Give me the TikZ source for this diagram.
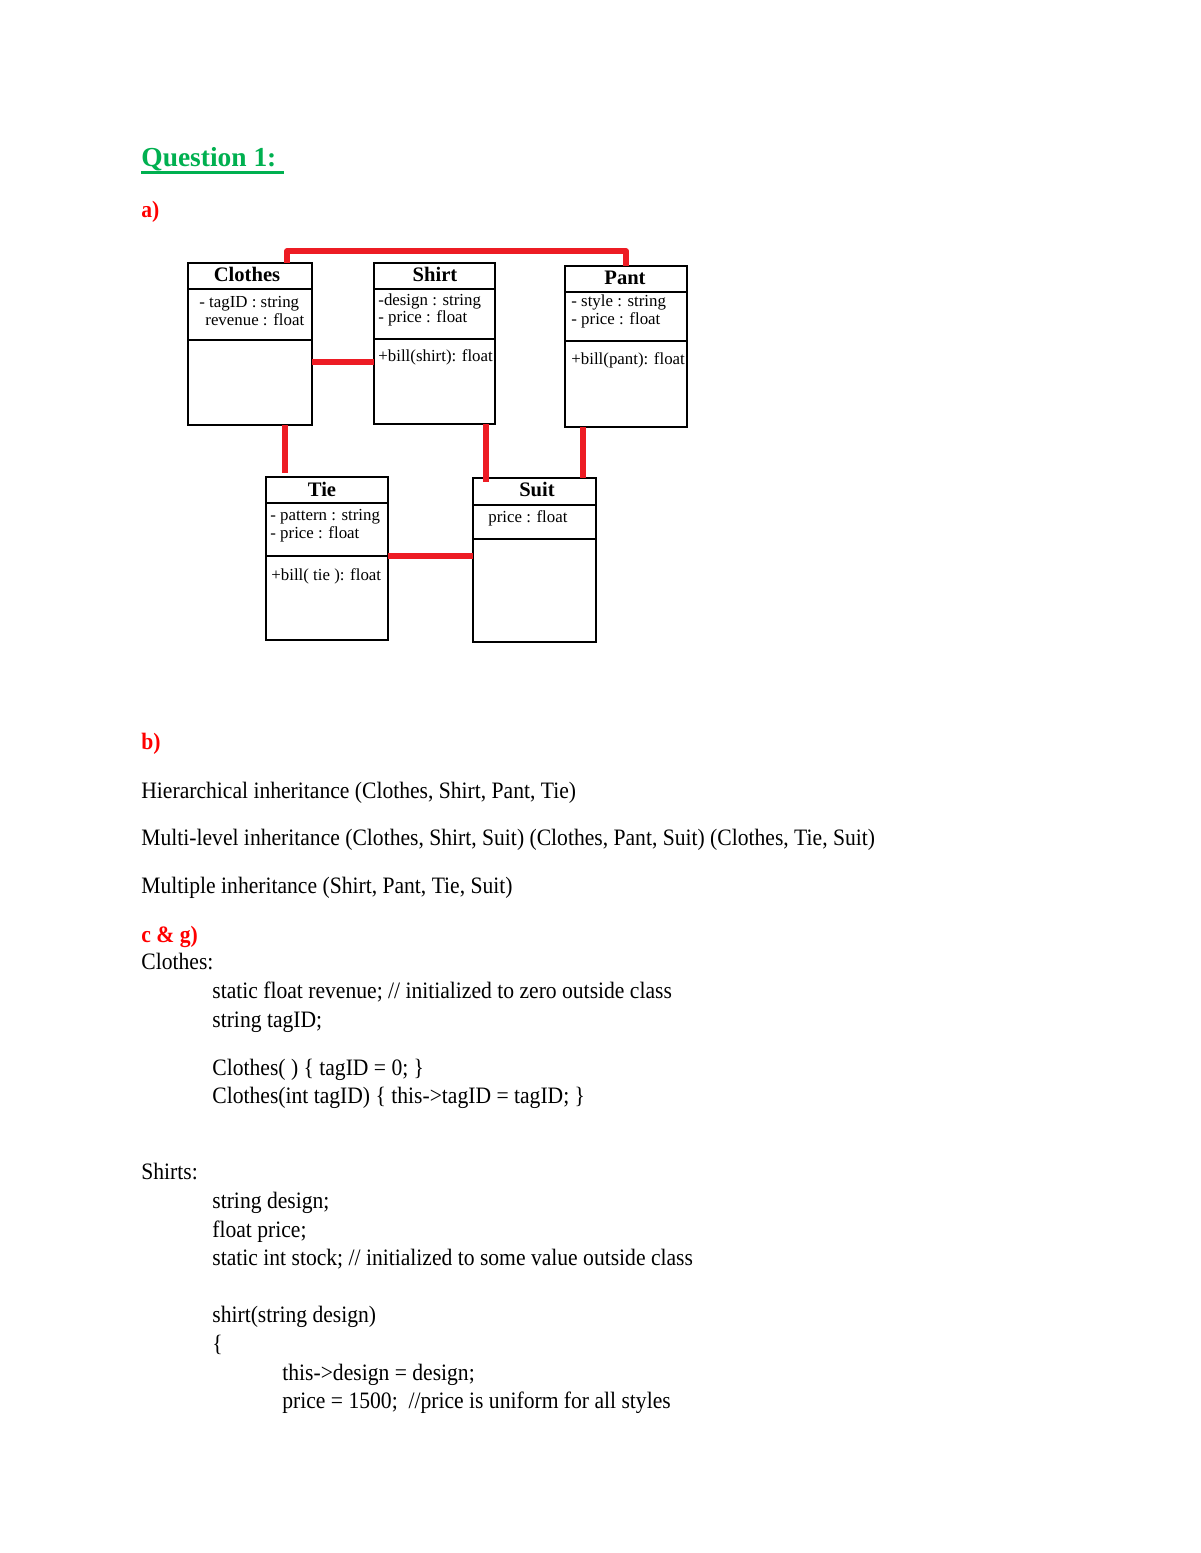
\documentclass[tikz,border=0pt]{standalone}
\usepackage{fontspec}
\setmainfont{Liberation Serif}
\newfontfamily\bodyfont{Liberation Serif}[FakeStretch=0.918]
\usetikzlibrary{fit}
\definecolor{qgreen}{HTML}{00B050}
\definecolor{lblred}{HTML}{FF0000}
\definecolor{connred}{HTML}{ED1C24}
\tikzset{
 classbox/.style={draw=black, line width=1.5pt, inner sep=0pt, outer sep=0pt, fill=white},
 divider/.style={draw=black, line width=1.5pt},
 conn/.style={draw=connred, line width=2.6pt, line join=round},
 ctitle/.style={font=\fontsize{10.5}{12}\selectfont\bfseries, anchor=base, inner sep=0pt},
 cattr/.style={font=\fontsize{8.6}{10}\selectfont, anchor=base west, inner sep=0pt},
 body/.style={font=\bodyfont\fontsize{12}{14}\selectfont, anchor=base west, inner sep=0pt},
 lbl/.style={font=\bodyfont\fontsize{12}{14}\selectfont\bfseries, text=lblred, anchor=base west, inner sep=0pt},
 heading/.style={font=\fontsize{14}{16}\selectfont\bfseries, text=qgreen, anchor=base west, inner sep=0pt},
}
\begin{document}
\begin{tikzpicture}[x=0.51pt, y=-0.51pt]
\useasboundingbox[fill=white] (0,0) rectangle (1200,1553);

% heading
\node[heading] (q) at (141,167) {Question 1:};
\draw[qgreen, line width=1.3pt] (141,172.5) -- (284,172.5);
\node[lbl] (la) at (141,218) {a)};

% class boxes
\node[classbox, fit={(188,263) (312,425)}] (clothes) {};
\node[classbox, fit={(374,263) (495,424)}] (shirt) {};
\node[classbox, fit={(565,266) (687,427)}] (pant) {};
\node[classbox, fit={(266,477) (388,640)}] (tie) {};
\node[classbox, fit={(473,478) (596,642)}] (suit) {};

% dividers
\draw[divider] (clothes.west |- 0,289) -- (clothes.east |- 0,289);
\draw[divider] (clothes.west |- 0,340) -- (clothes.east |- 0,340);
\draw[divider] (shirt.west |- 0,289) -- (shirt.east |- 0,289);
\draw[divider] (shirt.west |- 0,339) -- (shirt.east |- 0,339);
\draw[divider] (pant.west |- 0,292) -- (pant.east |- 0,292);
\draw[divider] (pant.west |- 0,341) -- (pant.east |- 0,341);
\draw[divider] (tie.west |- 0,503) -- (tie.east |- 0,503);
\draw[divider] (tie.west |- 0,556) -- (tie.east |- 0,556);
\draw[divider] (suit.west |- 0,505) -- (suit.east |- 0,505);
\draw[divider] (suit.west |- 0,539) -- (suit.east |- 0,539);

% class texts
\node[ctitle] (clothesT) at (247,281) {Clothes};
\node[cattr] (clothesA1) at (199,307) {- tagID : string};
\node[cattr] (clothesA2) at (205,325) {revenue : float};

\node[ctitle] (shirtT) at (435,281) {Shirt};
\node[cattr] (shirtA1) at (378,305) {-design : string};
\node[cattr] (shirtA2) at (378,322) {- price : float};
\node[cattr] (shirtM1) at (378,361) {+bill(shirt): float};

\node[ctitle] (pantT) at (625,284) {Pant};
\node[cattr] (pantA1) at (571,306) {- style : string};
\node[cattr] (pantA2) at (571,324) {- price : float};
\node[cattr] (pantM1) at (571,364) {+bill(pant): float};

\node[ctitle] (tieT) at (322,496) {Tie};
\node[cattr] (tieA1) at (270,520) {- pattern : string};
\node[cattr] (tieA2) at (270,538) {- price : float};
\node[cattr] (tieM1) at (271,580) {+bill( tie ): float};

\node[ctitle] (suitT) at (537,496) {Suit};
\node[cattr] (suitA1) at (488,522) {price : float};

% connectors
\draw[conn] (287,0 |- clothes.north) -- (287,251) -| (pant.north);
\draw[conn] (clothes.east |- 0,362) -- (shirt.west |- 0,362);
\draw[conn, shorten >=2pt] (285,0 |- clothes.south) -- (285,0 |- tie.north);
\draw[conn, shorten >=-2pt] (486,0 |- shirt.south) -- (486,0 |- suit.north);
\draw[conn] (583,0 |- pant.south) -- (583,0 |- suit.north);
\draw[conn] (tie.east |- 0,556) -- (suit.west |- 0,556);

% part b
\node[lbl] (lb) at (141,749) {b)};
\node[body] (b1) at (141,798) {Hierarchical inheritance (Clothes, Shirt, Pant, Tie)};
\node[body] (b2) at (141,845) {Multi-level inheritance (Clothes, Shirt, Suit) (Clothes, Pant, Suit) (Clothes, Tie, Suit)};
\node[body] (b3) at (141,893) {Multiple inheritance (Shirt, Pant, Tie, Suit)};

% part c & g
\node[lbl] (lc) at (141,942) {c \& g)};
\node[body] (c1) at (141,969) {Clothes:};
\node[body] (c2) at (212,998) {static float revenue; // initialized to zero outside class};
\node[body] (c3) at (212,1027) {string tagID;};
\node[body] (c4) at (212,1075) {Clothes( ) \{ tagID = 0; \}};
\node[body] (c5) at (212,1103) {Clothes(int tagID) \{ this->tagID = tagID; \}};

\node[body] (s1) at (141,1179) {Shirts:};
\node[body] (s2) at (212,1208) {string design;};
\node[body] (s3) at (212,1237) {float price;};
\node[body] (s4) at (212,1265) {static int stock; // initialized to some value outside class};
\node[body] (s5) at (212,1322) {shirt(string design)};
\node[body] (s6) at (212,1351) {\{};
\node[body] (s7) at (282,1380) {this->design = design;};
\node[body] (s8) at (282,1408) {price = 1500;\ \ //price is uniform for all styles};
\end{tikzpicture}
\end{document}
